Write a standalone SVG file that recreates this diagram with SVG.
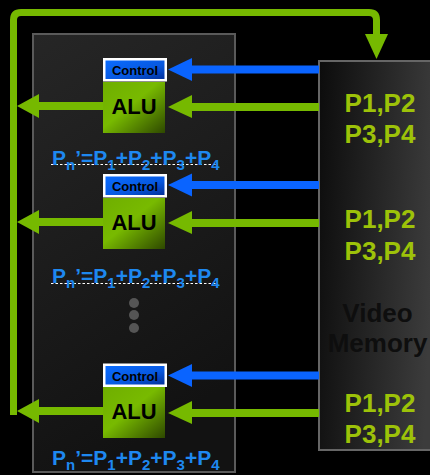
<svg xmlns="http://www.w3.org/2000/svg" width="430" height="475" viewBox="0 0 430 475">
<defs>
<linearGradient id="panelG" x1="0" y1="0" x2="0.3" y2="1">
<stop offset="0" stop-color="#262626"/>
<stop offset="1" stop-color="#121212"/>
</linearGradient>
<linearGradient id="memG" x1="0" y1="0" x2="1" y2="0.15">
<stop offset="0" stop-color="#0c0c0c"/>
<stop offset="1" stop-color="#3c3c3c"/>
</linearGradient>
<linearGradient id="aluG" x1="0" y1="0" x2="1" y2="1">
<stop offset="0" stop-color="#6fae00"/>
<stop offset="0.45" stop-color="#78ba00"/>
<stop offset="1" stop-color="#2e4800"/>
</linearGradient>
<linearGradient id="ctlG" x1="0" y1="0" x2="1" y2="1">
<stop offset="0" stop-color="#0a6cff"/>
<stop offset="0.6" stop-color="#0758e0"/>
<stop offset="1" stop-color="#02309a"/>
</linearGradient>
<style>
.grn{stroke:#76b900;stroke-width:8;fill:none}
.blu{stroke:#0a64ff;stroke-width:8;fill:none}
.hg{fill:#76b900}
.hb{fill:#0a64ff}
.alu{font-family:"Liberation Sans",Arial,sans-serif;font-weight:bold;font-size:22px;fill:#000;text-anchor:middle}
.ctl{font-family:"Liberation Sans",Arial,sans-serif;font-weight:bold;font-size:13px;fill:#000;text-anchor:middle}
.frm{font-family:"Liberation Sans",Arial,sans-serif;font-weight:bold;font-size:21px;fill:#1e88f0}
.sub{font-size:15px}
.mem{font-family:"Liberation Sans",Arial,sans-serif;font-weight:bold;font-size:26px;fill:#9dc209;text-anchor:middle}
.vm{font-family:"Liberation Sans",Arial,sans-serif;font-weight:bold;font-size:26px;fill:#0e0e0e;text-anchor:middle}
.dash{stroke:#ffffff;stroke-width:1;stroke-dasharray:2.5 2;fill:none}
</style>
</defs>
<rect width="430" height="475" fill="#000"/>

<g id="panel">
<rect x="33" y="34" width="202" height="438" fill="url(#panelG)" stroke="#5a5a5a" stroke-width="2"/>
<circle cx="134" cy="303" r="5" fill="#555"/>
<circle cx="134" cy="315" r="5" fill="#555"/>
<circle cx="134" cy="328" r="5" fill="#555"/>
</g>

<g id="memory">
<rect x="319" y="61" width="120" height="389" fill="url(#memG)" stroke="#666" stroke-width="2"/>
<text class="mem" x="380" y="112">P1,P2</text>
<text class="mem" x="380" y="143">P3,P4</text>
<text class="mem" x="380" y="228">P1,P2</text>
<text class="mem" x="380" y="260">P3,P4</text>
<text class="vm" x="377.5" y="322">Video</text>
<text class="vm" x="377.5" y="352">Memory</text>
<text class="mem" x="380" y="412">P1,P2</text>
<text class="mem" x="380" y="443">P3,P4</text>
</g>

<g id="connectors">
<path d="M13.5,415 V20 Q13.5,12.5 21,12.5 H369 Q376.5,12.5 376.5,20 V36" stroke="#76b900" stroke-width="7" fill="none"/>
<polygon points="365,34 388,34 376.5,59" class="hg"/>
<line x1="319" y1="69.5" x2="190" y2="69.5" class="blu"/>
<polygon points="192,58 192,81 168,69.5" class="hb"/>
<line x1="319" y1="107" x2="190" y2="107" class="grn"/>
<polygon points="192,95 192,118 168,107" class="hg"/>
<line x1="103" y1="106" x2="37" y2="106" class="grn"/>
<polygon points="39,94 39,118 17,106" class="hg"/>
<line x1="319" y1="185" x2="190" y2="185" class="blu"/>
<polygon points="192,173.5 192,196.5 168,185" class="hb"/>
<line x1="319" y1="223" x2="190" y2="223" class="grn"/>
<polygon points="192,211 192,234 168,223" class="hg"/>
<line x1="103" y1="222" x2="37" y2="222" class="grn"/>
<polygon points="39,210 39,234 17,222" class="hg"/>
<line x1="319" y1="375.5" x2="190" y2="375.5" class="blu"/>
<polygon points="192,364 192,387 168,375.5" class="hb"/>
<line x1="319" y1="413" x2="190" y2="413" class="grn"/>
<polygon points="192,401 192,424 168,413" class="hg"/>
<line x1="103" y1="411" x2="37" y2="411" class="grn"/>
<polygon points="39,399 39,423 17,411" class="hg"/>
</g>

<g id="unit1">
<rect x="103" y="58" width="64" height="23.5" fill="#fff"/>
<rect x="105.5" y="60.5" width="59" height="18.5" fill="url(#ctlG)"/>
<text class="ctl" x="135" y="75">Control</text>
<rect x="103" y="82" width="62" height="51" fill="url(#aluG)"/>
<text class="alu" x="134" y="114">ALU</text>
</g>
<g id="formula1">
<line x1="51" y1="164.5" x2="218" y2="164.5" class="dash"/>
<text class="frm" x="52" y="165">P<tspan class="sub" dy="5">n</tspan><tspan dy="-5">’=P</tspan><tspan class="sub" dy="5">1</tspan><tspan dy="-5">+P</tspan><tspan class="sub" dy="5">2</tspan><tspan dy="-5">+P</tspan><tspan class="sub" dy="5">3</tspan><tspan dy="-5">+P</tspan><tspan class="sub" dy="5">4</tspan></text>
</g>

<g id="unit2">
<rect x="103" y="174" width="64" height="23.5" fill="#fff"/>
<rect x="105.5" y="176.5" width="59" height="18.5" fill="url(#ctlG)"/>
<text class="ctl" x="135" y="191">Control</text>
<rect x="103" y="198" width="62" height="51" fill="url(#aluG)"/>
<text class="alu" x="134" y="230">ALU</text>
</g>
<g id="formula2">
<line x1="51" y1="283.5" x2="218" y2="283.5" class="dash"/>
<text class="frm" x="52" y="283">P<tspan class="sub" dy="5">n</tspan><tspan dy="-5">’=P</tspan><tspan class="sub" dy="5">1</tspan><tspan dy="-5">+P</tspan><tspan class="sub" dy="5">2</tspan><tspan dy="-5">+P</tspan><tspan class="sub" dy="5">3</tspan><tspan dy="-5">+P</tspan><tspan class="sub" dy="5">4</tspan></text>
</g>

<g id="unit3">
<rect x="103" y="363.5" width="64" height="23.5" fill="#fff"/>
<rect x="105.5" y="366" width="59" height="18.5" fill="url(#ctlG)"/>
<text class="ctl" x="135" y="380.5">Control</text>
<rect x="103" y="387" width="62" height="51" fill="url(#aluG)"/>
<text class="alu" x="134" y="419">ALU</text>
</g>
<g id="formula3">
<text class="frm" x="52" y="465">P<tspan class="sub" dy="5">n</tspan><tspan dy="-5">’=P</tspan><tspan class="sub" dy="5">1</tspan><tspan dy="-5">+P</tspan><tspan class="sub" dy="5">2</tspan><tspan dy="-5">+P</tspan><tspan class="sub" dy="5">3</tspan><tspan dy="-5">+P</tspan><tspan class="sub" dy="5">4</tspan></text>
</g>
</svg>
